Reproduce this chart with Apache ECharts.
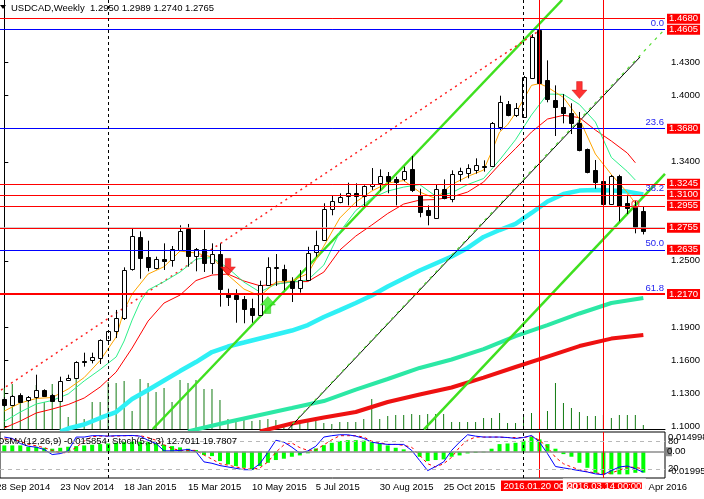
<!DOCTYPE html>
<html>
<head>
<meta charset="utf-8">
<script src="https://cdn.jsdelivr.net/npm/echarts@6.0.0/dist/echarts.min.js"></script>
<style>html,body{margin:0;padding:0;background:#fff;overflow:hidden}#chart{width:704px;height:499px}</style>
</head>
<body>
<div id="chart"></div>
<script>
// ---------------- DATA ----------------
const symbolName = 'USDCAD';
const timeframe = 'Weekly';
const opens = [1.1245,1.1188,1.1284,1.1230,1.1261,1.1327,1.1279,1.1224,1.1418,1.1436,
1.1590,1.1599,1.1617,1.1781,1.1860,1.1981,1.2423,1.2714,1.2532,1.2441,
1.2519,1.2508,1.2605,1.2787,1.2544,1.2605,1.2478,1.2562,1.2205,1.2187,
1.2156,1.2072,1.2005,1.2278,1.2435,1.2423,1.2320,1.2253,1.2326,1.2580,
1.2689,1.2968,1.3034,1.3089,1.3119,1.3089,1.3180,1.3204,1.3271,1.3246,
1.3246,1.3331,1.3095,1.2962,1.2896,1.3155,1.3068,1.3292,1.3304,1.3328,
1.3359,1.3364,1.3716,1.3927,1.3831,1.3806,1.4164,1.4594,1.4140,1.3961,
1.3895,1.3846,1.3749,1.3513,1.3325,1.3222,1.3016,1.3271,1.3028,1.2992,
1.2950];
const highs = [1.1263,1.1282,1.1297,1.1272,1.1466,1.1333,1.1291,1.1448,1.1466,1.1588,
1.1666,1.1666,1.1787,1.1872,1.2054,1.2441,1.2798,1.2768,1.2683,1.2538,
1.2659,1.2635,1.2823,1.2835,1.2617,1.2780,1.2659,1.2659,1.2247,1.2242,
1.2181,1.2156,1.2320,1.2532,1.2562,1.2465,1.2351,1.2417,1.2628,1.2774,
1.3023,1.3095,1.3113,1.3210,1.3204,1.3186,1.3343,1.3331,1.3307,1.3264,
1.3355,1.3452,1.3155,1.3004,1.3198,1.3240,1.3322,1.3346,1.3377,1.3431,
1.3413,1.3761,1.4000,1.3952,1.3933,1.4180,1.4558,1.4690,1.4321,1.4094,
1.4015,1.3931,1.3852,1.3520,1.3416,1.3230,1.3280,1.3282,1.3101,1.3046,
1.2989];
const lows = [1.1173,1.1182,1.1212,1.1218,1.1248,1.1266,1.1218,1.1218,1.1411,1.1429,
1.1539,1.1569,1.1563,1.1745,1.1799,1.1963,1.2411,1.2338,1.2405,1.2423,
1.2417,1.2447,1.2598,1.2447,1.2405,1.2399,1.2381,1.2084,1.2090,1.1938,
1.1933,1.1938,1.2005,1.2278,1.2272,1.2235,1.2126,1.2211,1.2326,1.2538,
1.2683,1.2914,1.3023,1.3004,1.2992,1.2998,1.3144,1.3137,1.3114,1.3004,
1.3223,1.3125,1.2896,1.2823,1.2896,1.3059,1.3032,1.3219,1.3250,1.3292,
1.3310,1.3359,1.3686,1.3813,1.3806,1.3800,1.4158,1.4100,1.3940,1.3634,
1.3749,1.3652,1.3495,1.3295,1.3155,1.3000,1.3010,1.2859,1.2926,1.2750,
1.2740];
const closes = [1.1188,1.1272,1.1224,1.1261,1.1327,1.1272,1.1224,1.1406,1.1436,1.1581,
1.1584,1.1624,1.1781,1.1860,1.1981,1.2417,1.2726,1.2519,1.2441,1.2519,
1.2501,1.2610,1.2774,1.2544,1.2605,1.2478,1.2562,1.2242,1.2169,1.2151,
1.2065,1.2005,1.2278,1.2441,1.2441,1.2320,1.2260,1.2326,1.2568,1.2647,
1.2968,1.3041,1.3077,1.3119,1.3089,1.3180,1.3198,1.3271,1.3223,1.3223,
1.3319,1.3137,1.2944,1.2914,1.3155,1.3077,1.3292,1.3316,1.3346,1.3371,
1.3346,1.3752,1.3946,1.3825,1.3891,1.4170,1.4533,1.4109,1.3964,1.3900,
1.3840,1.3755,1.3500,1.3301,1.3216,1.3010,1.3271,1.2998,1.2986,1.2810,
1.2765];
const volumes = [41,45,26,29,44,27,45,40,12,53,10,27,27,47,46,48,18,50,46,37,
41,27,49,46,49,40,40,29,10,10,11,8,9,10,9,5,5,8,8,10,
6,5,7,7,7,10,30,10,13,14,14,15,14,15,15,15,7,7,7,7,
11,11,16,6,6,15,16,18,18,46,26,21,17,13,13,14,11,14,14,14,4];
const osma = [0.0048,0.0048,0.0048,0.0038,0.0038,0.0030,0.0023,0.0030,0.0038,0.0043,
0.0048,0.0053,0.0058,0.0063,0.0068,0.0073,0.0078,0.0078,0.0073,0.0063,
0.0053,0.0043,0.0033,0.0023,0.0013,-0.0025,-0.0033,-0.0071,-0.0096,-0.0109,
-0.0122,-0.0139,-0.0109,-0.0084,-0.0063,-0.0053,-0.0038,-0.0028,-0.0012,0.0025,
0.0050,0.0068,0.0082,0.0088,0.0088,0.0084,0.0073,0.0063,0.0048,0.0030,
0.0018,0.0005,-0.0038,-0.0071,-0.0063,-0.0058,-0.0038,-0.0028,-0.0013,-0.0008,
-0.0005,0.0023,0.0058,0.0063,0.0068,0.0084,0.0114,0.0094,0.0058,0.0023,
-0.0018,-0.0038,-0.0084,-0.0122,-0.0160,-0.0172,-0.0172,-0.0172,-0.0172,-0.0160,
-0.015854];
const stochMain = [89,86,75,69,67,62,51,53,59,89,89,92,92,91,92,92,92.5,91,82,75,
59,59,60,62,57,35,32,27,24,21,18,18,31,56,82,78,67,54,59,69,
89,92,94,94,91,86,78,75,73,73,73,60,38,16,25,35,60,78,94,91,
89,89,89,88,86,88,92.5,78,53,25,22,19,16,13,9,7,16,24,26,20,12.7011];
const stochSignal = [85,85,80,73,70,66,60,55,55,67,80,90,91,91,91,92,92,92,88,82,
72,64,60,60,60,50,41,31,28,24,21,19,22,35,56,72,76,66,60,61,
72,83,92,92,92,89,80,77,73,73,71,67,49,31,24,31,45,67,82,89,
89,89,89,88,88,88,91,82,67,45,31,24,18,14,11,9,11,17,24,23,19.7807];
// moving averages: [bar index, price]
const maOrange = [[0,1.1136],[2,1.1209],[4,1.1250],[6,1.1259],[8,1.1336],[10,1.1440],[12,1.1595],[14,1.1808],[15,1.2053],[16,1.2199],[18,1.2380],[20,1.2447],[22,1.2589],[24,1.2571],[26,1.2535],[28,1.2371],[30,1.2244],[32,1.2180],[34,1.2307],[36,1.2317],[38,1.2385],[40,1.2634],[42,1.2889],[44,1.3034],[46,1.3134],[48,1.3207],[50,1.3229],[52,1.3125],[54,1.3066],[56,1.3193],[58,1.3266],[60,1.3325],[61,1.3489],[62,1.3669],[63,1.3736],[64,1.3842],[65,1.3965],[66,1.4094],[67,1.4110],[68,1.4078],[70,1.3984],[72,1.3788],[74,1.3470],[76,1.3284],[78,1.3121],[79,1.3022]];
const maGreen = [[0,1.1041],[2,1.1127],[4,1.1200],[6,1.1232],[8,1.1291],[10,1.1409],[12,1.1513],[14,1.1627],[15,1.1772],[16,1.1962],[17,1.2126],[18,1.2235],[20,1.2311],[22,1.2398],[24,1.2516],[26,1.2530],[28,1.2435],[30,1.2307],[32,1.2217],[34,1.2289],[36,1.2307],[38,1.2326],[40,1.2462],[42,1.2762],[44,1.2957],[46,1.3070],[48,1.3134],[50,1.3170],[52,1.3193],[54,1.3088],[56,1.3118],[58,1.3193],[60,1.3248],[62,1.3416],[64,1.3600],[66,1.3825],[68,1.4015],[70,1.4012],[72,1.3920],[74,1.3761],[76,1.3439],[78,1.3311],[79,1.3234]];
const maRed = [[0,1.0982],[2,1.1045],[4,1.1118],[6,1.1154],[8,1.1195],[10,1.1254],[12,1.1354],[14,1.1490],[16,1.1708],[18,1.1953],[20,1.2117],[22,1.2189],[24,1.2321],[26,1.2371],[28,1.2380],[30,1.2317],[32,1.2274],[34,1.2289],[36,1.2310],[38,1.2312],[40,1.2398],[42,1.2598],[44,1.2725],[46,1.2825],[48,1.2930],[50,1.3016],[52,1.3052],[54,1.3057],[56,1.3080],[58,1.3125],[60,1.3216],[62,1.3375],[64,1.3520],[66,1.3670],[68,1.3788],[70,1.3822],[72,1.3801],[74,1.3688],[76,1.3588],[78,1.3479],[79,1.3391]];
const maCyan = [[7,1.0950],[8,1.0977],[10,1.1014],[12,1.1073],[14,1.1127],[16,1.1245],[18,1.1327],[20,1.1413],[22,1.1499],[24,1.1581],[26,1.1672],[28,1.1722],[30,1.1758],[32,1.1795],[34,1.1831],[36,1.1867],[38,1.1917],[40,1.1990],[42,1.2053],[44,1.2117],[46,1.2185],[48,1.2267],[50,1.2339],[52,1.2412],[54,1.2476],[56,1.2539],[58,1.2617],[60,1.2717],[62,1.2780],[64,1.2835],[66,1.2935],[68,1.3039],[70,1.3107],[72,1.3138],[74,1.3143],[76,1.3140],[78,1.3129],[80,1.3102]];
const maTeal = [[23,1.0950],[24,1.0968],[28,1.1036],[32,1.1100],[36,1.1163],[40,1.1227],[44,1.1331],[48,1.1427],[52,1.1527],[56,1.1604],[60,1.1699],[64,1.1817],[68,1.1917],[72,1.2022],[76,1.2117],[80,1.2163]];
const maRedSlow = [[32,1.0950],[33,1.0968],[36,1.1023],[40,1.1077],[44,1.1127],[48,1.1218],[52,1.1286],[56,1.1350],[60,1.1440],[64,1.1536],[68,1.1631],[72,1.1726],[76,1.1794],[80,1.1826]];
// trend lines: [bar index, price] end points
const trendLime1 = [[18.59,1.09728],[69.84,1.48692]];
const trendLime2 = [[52.54,1.0970],[82.71,1.3289]];
const trendBlack = [[35.54,1.0970],[79.59,1.43515]];
const trendGreenDash = [[36.09,1.10182],[82.71,1.46058]];
const trendRedDash = [[-0.41,1.13270],[67.09,1.45967]];
// marks
const arrowsDown = [[28,1.2445],[72,1.4051]];
const arrowsUp = [[33,1.2099]];
const circleMarks = [[79,1.3016]];
// levels
const redLevels = [1.4680,1.3245,1.3100,1.2955,1.2755,1.2170];
const fibValues = [1.4605,1.3680,1.3100,1.2635,1.2170];
const fibNames = ['0.0','23.6','38.2','50.0','61.8'];
const boxLevels = [1.4680,1.4605,1.3680,1.3245,1.3100,1.2955,1.2755,1.2635,1.2170];
const priceTicks = [1.10,1.13,1.16,1.19,1.22,1.25,1.28,1.31,1.34,1.37,1.40,1.43,1.46];
const separatorBars = [13,65];
const markedBars = [67,75];
const markedLabels = ['2016.01.20 00:00','2016.03.14 00:00'];
const dateTickBars = [-1,7,15,23,31,39,47,55,63,71,79];
const dateTickLabels = ['28 Sep 2014','23 Nov 2014','18 Jan 2015','15 Mar 2015','10 May 2015','5 Jul 2015','30 Aug 2015','25 Oct 2015','20 Dec 2015','14 Feb 2016','10 Apr 2016'];
const osmaRange = [-0.01995, 0.014998];
const stochLevels = [80,20];

// ---------------- CHART ----------------
const FONT = 'Liberation Sans';
const FS = 9.5;
const XMIN = -0.5375, XMAX = 82.7125, YMIN = 1.09728, YMAX = 1.48692;
const chart = echarts.init(document.getElementById('chart'));

const candleData = opens.map((o,i)=>[i,o,closes[i],lows[i],highs[i]]);
const volData = volumes.map((v,i)=>[i,v]);
const osmaData = osma.map((v,i)=>[i,v]);
const stMainData = stochMain.map((v,i)=>[i,v]);
const stSigData = stochSignal.map((v,i)=>[i,v]);

function ln(data, color, width, extra){
  return Object.assign({type:'line', xAxisIndex:0, yAxisIndex:0, data:data, symbol:'none', showSymbol:false,
    silent:true, clip:true, z:2, lineStyle:{color:color, width:width}, emphasis:{disabled:true}}, extra||{});
}
const blueLevels = new Set(fibValues.filter(v=>redLevels.indexOf(v)<0));
const levelLines = [];
fibValues.forEach((v,k)=>levelLines.push({yAxis:v, lineStyle:{color:'#0000FF', width:1, type:'solid'},
  label:{show:true, position:'insideEndTop', formatter:fibNames[k], color:'#2424F0', fontSize:FS, fontFamily:FONT, distance:1}}));
redLevels.forEach(v=>levelLines.push({yAxis:v, lineStyle:{color:'#FF0000', width:(v===1.2170?2:1), type:'solid'}, label:{show:false}}));
levelLines.push({yAxis:closes[closes.length-1], lineStyle:{color:'#C0C0C0', width:1.5, type:'solid'}, label:{show:false}});
boxLevels.forEach(v=>levelLines.push({yAxis:v,
  lineStyle:{color:(blueLevels.has(v)?'#0000FF':'#FF0000'), width:(v===1.2170?2:1), type:'solid'},
  label:{show:true, position:'end', distance:2, formatter:v.toFixed(4), color:'#fff', backgroundColor:'#FF0000',
    padding:[1,2,0,2], fontSize:FS, fontFamily:FONT, lineHeight:9}}));
const vLines = [];
separatorBars.forEach(b=>vLines.push({xAxis:b, lineStyle:{color:'#000', width:1, type:[3,3]}, label:{show:false}}));
markedBars.forEach(b=>vLines.push({xAxis:b, lineStyle:{color:'#FF0000', width:1, type:'solid'}, label:{show:false}}));

const option = {
  animation:false,
  backgroundColor:'#fff',
  textStyle:{fontFamily:FONT},
  grid:[
    {left:-1, right:39, top:0, height:429, show:false},
    {left:-1, right:39, top:432, height:46, show:true, borderColor:'#000', borderWidth:1, backgroundColor:'rgba(0,0,0,0)'}
  ],
  xAxis:[
    {gridIndex:0, type:'value', min:XMIN, max:XMAX, axisLine:{show:true, onZero:false, lineStyle:{color:'#000'}},
      axisTick:{show:false}, axisLabel:{show:false}, splitLine:{show:false}},
    {gridIndex:1, type:'value', min:XMIN, max:XMAX, axisLine:{show:false}, axisTick:{show:false}, axisLabel:{show:false}, splitLine:{show:false}}
  ],
  yAxis:[
    {gridIndex:0, type:'value', position:'right', min:YMIN, max:YMAX,
      axisLine:{show:true, lineStyle:{color:'#000'}},
      axisTick:{show:true, length:4, lineStyle:{color:'#000'}, customValues:priceTicks},
      axisLabel:{show:true, customValues:priceTicks, formatter:v=>Number(v).toFixed(4), color:'#000', fontSize:FS, fontFamily:FONT, margin:6},
      splitLine:{show:false}},
    {gridIndex:0, type:'value', min:0, max:429, show:false},
    {gridIndex:1, type:'value', position:'right', min:osmaRange[0], max:osmaRange[1], axisLine:{show:false}, axisTick:{show:false}, axisLabel:{show:false}, splitLine:{show:false}},
    {gridIndex:1, type:'value', min:0, max:100, show:false}
  ],
  series:[
    {type:'bar', xAxisIndex:0, yAxisIndex:1, data:volData, barWidth:1, silent:true, z:1,
      itemStyle:{color:'#127a12'}, emphasis:{disabled:true}},
    ln(maRedSlow,'#EE1111',4),
    ln(maTeal,'#2CE8A5',4),
    ln(maCyan,'#2FF0F5',4.5),
    ln(trendLime1,'#3FE01F',2.5,{z:3}),
    ln(trendLime2,'#3FE01F',2.5,{z:3}),
    ln(trendBlack,'#000000',1,{z:3}),
    ln(trendGreenDash,'#55DD33',1,{z:3, lineStyle:{color:'#55DD33', width:1.2, type:[3,5]}}),
    ln(trendRedDash,'#FF2020',1.5,{z:3, lineStyle:{color:'#FF2020', width:1.5, type:[2,4]}}),
    ln(maRed,'#FF0000',1,{z:3}),
    ln(maGreen,'#2EF08A',1,{z:3}),
    ln(maOrange,'#FFA500',1,{z:3, clip:false,
      markLine:{symbol:['none','none'], silent:true, animation:false, data:levelLines.concat(vLines)}}),
    {type:'custom', xAxisIndex:0, yAxisIndex:0, data:candleData, z:4, silent:true, clip:true,
      encode:{x:0, y:[1,2,3,4]},
      renderItem:function(params, api){
        const x=api.value(0), o=api.value(1), c=api.value(2), l=api.value(3), h=api.value(4);
        const po=api.coord([x,o]), pc=api.coord([x,c]), pl=api.coord([x,l]), ph=api.coord([x,h]);
        const cx=Math.round(po[0])+0.5;
        const top=Math.min(po[1],pc[1]), bot=Math.max(po[1],pc[1]);
        const bull=c>=o;
        return {type:'group', children:[
          {type:'line', shape:{x1:cx,y1:ph[1],x2:cx,y2:pl[1]}, style:{stroke:'#000', lineWidth:1}},
          {type:'rect', shape:{x:cx-2, y:Math.round(top)+0.5, width:4, height:Math.max(Math.round(bot-top),1)},
            style:{fill:bull?'#fff':'#000', stroke:'#000', lineWidth:1}}
        ]};
      }},
    {type:'scatter', xAxisIndex:0, yAxisIndex:0, data:arrowsDown, z:6, silent:true,
      symbol:'path://M5,0 L11,0 L11,9 L16,9 L8,18 L0,9 L5,9 Z', symbolSize:[15,17],
      itemStyle:{color:'#FF0000', borderColor:'#C00000', borderWidth:0.5}},
    {type:'scatter', xAxisIndex:0, yAxisIndex:0, data:arrowsUp, z:6, silent:true,
      symbol:'path://M8,0 L16,9 L11,9 L11,18 L5,18 L5,9 L0,9 Z', symbolSize:[15,17],
      itemStyle:{color:'#33EE22', borderColor:'#22AA11', borderWidth:0.5}},
    {type:'scatter', xAxisIndex:0, yAxisIndex:0, data:circleMarks, z:6, silent:true,
      symbol:'circle', symbolSize:7, itemStyle:{color:'rgba(255,255,255,0)', borderColor:'#FF3030', borderWidth:1.2}},
    // MACD panel
    {type:'bar', xAxisIndex:1, yAxisIndex:2, data:osmaData, barWidth:4, silent:true, z:2,
      itemStyle:{color:'#00FF00'}, emphasis:{disabled:true},
      markLine:{symbol:['none','none'], silent:true, animation:false, data:[
        {yAxis:0, lineStyle:{color:'#8C8C8C', width:1.5, type:'solid'}, label:{show:false}}
      ].concat(vLines)}},
    {type:'line', xAxisIndex:1, yAxisIndex:3, data:stSigData, symbol:'none', silent:true, z:3,
      lineStyle:{color:'#FF0000', width:1, type:[3,3]}, emphasis:{disabled:true}},
    {type:'line', xAxisIndex:1, yAxisIndex:3, data:stMainData, symbol:'none', silent:true, z:4,
      lineStyle:{color:'#0000FF', width:1}, emphasis:{disabled:true},
      markLine:{symbol:['none','none'], silent:true, animation:false,
        data:stochLevels.map(v=>({yAxis:v, lineStyle:{color:'#B8B8B8', width:1, type:[4,4]}, label:{show:false}}))}}
  ]
};
chart.setOption(option);

// ---------- texts ----------
const px = i => chart.convertToPixel({xAxisIndex:1}, i);
const pyO = v => chart.convertToPixel({yAxisIndex:2}, v);
const pyS = v => chart.convertToPixel({yAxisIndex:3}, v);
const n = closes.length-1;
const g = [];
const T = (x,y,text,extra)=>Object.assign({type:'text', x:x, y:y, z:100, silent:true,
  style:Object.assign({text:text, fill:'#000', fontSize:FS, fontFamily:FONT, verticalAlign:'middle', align:'left'}, (extra||{}))});
g.push({type:'polygon', z:100, silent:true, shape:{points:[[0,5],[6,5],[3,9]]}, style:{fill:'#000'}});
g.push(T(11,8, symbolName+','+timeframe+'  '+[opens[n],highs[n],lows[n],closes[n]].map(v=>v.toFixed(4)).join(' ')));
g.push(T(-3,441,'OsMA(12,26,9) '+osma[n].toFixed(6)+'  Stoch(5,3,3) '+stochMain[n].toFixed(4)+' '+stochSignal[n].toFixed(4)));
dateTickBars.forEach((b,k)=>g.push(T(px(b),487.5,dateTickLabels[k])));
// vertical line time boxes
markedBars.forEach((b,k)=>{
  const cx = px(b)+1;
  g.push({type:'rect', z:101, silent:true, shape:{x:cx-39.5, y:480.5, width:79, height:10.5},
    style:{fill:'#FF0000', stroke:'#fff', lineWidth:k>0?4:0}});
  g.push(T(cx,486,markedLabels[k],{fill:'#fff', align:'center'}));
  g[g.length-1].z = 102;
});
// indicator axis labels
g.push(T(668,437,osmaRange[1].toString()));
g.push(T(668,pyS(stochLevels[0]),String(stochLevels[0])));
g.push({type:'rect', z:100, silent:true, shape:{x:666, y:pyO(0)-4.5, width:6, height:9}, style:{fill:'#8C8C8C'}});
g.push(T(667,pyO(0),'0.00'));
g.push(T(668,pyS(stochLevels[1]),String(stochLevels[1])));
g.push(T(668,471,osmaRange[0].toString()));
chart.setOption({graphic:g});
</script>
</body>
</html>
